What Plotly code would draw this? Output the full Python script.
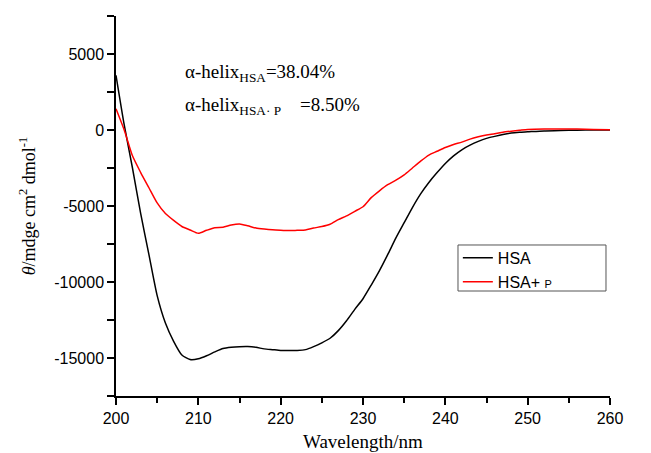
import plotly.graph_objects as go

wavelength = [200, 201, 202, 203, 204, 205, 206, 207, 208, 209, 210, 211, 212, 213, 214, 215,
              216, 217, 218, 219, 220, 221, 222, 223, 224, 225, 226, 227, 228, 229, 230, 231,
              232, 233, 234, 235, 236, 237, 238, 239, 240, 241, 242, 243, 244, 245, 246, 247,
              248, 249, 250, 252, 254, 256, 258, 260]

hsa = [3600, 330, -2500, -5500, -8200, -10900, -12700, -13900, -14800, -15100, -15050, -14850,
       -14600, -14380, -14300, -14260, -14250, -14300, -14400, -14450, -14500, -14500, -14500,
       -14450, -14250, -14000, -13700, -13200, -12550, -11800, -11100, -10200, -9250, -8200,
       -7100, -6100, -5100, -4200, -3450, -2800, -2200, -1700, -1300, -1000, -750, -550, -420,
       -300, -200, -150, -120, -60, -40, -10, 0, 0]

hsa_p = [1400, 0, -1700, -2800, -3800, -4800, -5500, -5950, -6350, -6580, -6800, -6600, -6430,
         -6400, -6250, -6180, -6300, -6450, -6520, -6570, -6600, -6620, -6600, -6580, -6450,
         -6350, -6200, -5900, -5650, -5350, -5050, -4450, -4000, -3600, -3300, -2950, -2500,
         -2050, -1650, -1400, -1150, -950, -800, -600, -450, -330, -250, -150, -80, -20, 40,
         70, 60, 60, 30, 20]

x_ticks = [200, 210, 220, 230, 240, 250, 260]
y_ticks = [5000, 0, -5000, -10000, -15000]
y_tick_text = ["5000", "0", "-5000", "-10000", "-15000"]

serif = "Liberation Serif"
sans = "Liberation Sans"

fig = go.Figure()
fig.add_trace(go.Scatter(x=wavelength, y=hsa, mode="lines", name="HSA",
                         line=dict(color="black", width=1.5, shape="spline", smoothing=0.6)))
fig.add_trace(go.Scatter(x=wavelength, y=hsa_p, mode="lines",
                         name="HSA+ <span style='font-size:11px'>P</span>",
                         line=dict(color="red", width=1.5, shape="spline", smoothing=0.6)))

fig.update_layout(
    width=651, height=453,
    margin=dict(l=116, r=41, t=16, b=57),
    paper_bgcolor="white", plot_bgcolor="white",
    showlegend=True,
    legend=dict(x=0.692, y=0.408, xanchor="left", yanchor="top",
                borderwidth=0, bgcolor="rgba(0,0,0,0)",
                font=dict(family=sans, size=16, color="black"),
                tracegroupgap=0, itemwidth=30),
    shapes=[dict(type="rect", xref="paper", yref="paper", x0=0.6923, x1=0.9919,
                 y0=0.2763, y1=0.3974, line=dict(color="#555555", width=1),
                 fillcolor="rgba(0,0,0,0)", layer="above")],
    xaxis=dict(range=[200, 260], tickvals=x_ticks, ticks="outside", ticklen=7, tickwidth=1.5,
               tickcolor="black", showline=True, linecolor="black", linewidth=1.5,
               showgrid=False, zeroline=False, automargin=False,
               minor=dict(dtick=5, ticks="outside", ticklen=5, tickwidth=1.5, tickcolor="black"),
               tickfont=dict(family=sans, size=16, color="black")),
    yaxis=dict(range=[-17500, 7500], tickvals=y_ticks, ticktext=y_tick_text, ticks="outside",
               ticklen=7, tickwidth=1.5, tickcolor="black", showline=True, linecolor="black",
               linewidth=1.5, showgrid=False, zeroline=False, automargin=False,
               minor=dict(dtick=2500, ticks="outside", ticklen=7, tickwidth=1.5, tickcolor="black"),
               tickfont=dict(family=sans, size=16, color="black"),
               title=dict(text="<i>θ</i>/mdge cm<sup>2</sup> dmol<sup>-1</sup>",
                          font=dict(family=serif, size=18, color="black"), standoff=14)),
)

fig.add_annotation(xref="paper", yref="paper", x=0.5, y=-0.12, xanchor="center", yanchor="middle",
                   text="Wavelength/nm", showarrow=False,
                   font=dict(family=serif, size=19, color="black"))
fig.add_annotation(xref="paper", yref="paper", x=0.1356, y=0.85, xanchor="left", yanchor="middle",
                   text="α-helix<sub>HSA</sub>=38.04%", showarrow=False,
                   font=dict(family=serif, size=19, color="black"))
fig.add_annotation(xref="paper", yref="paper", x=0.1356, y=0.762, xanchor="left", yanchor="middle",
                   text="α-helix<sub>HSA· P</sub>&nbsp;&nbsp;&nbsp;&nbsp;=8.50%", showarrow=False,
                   font=dict(family=serif, size=19, color="black"))

fig.write_html("out.html")
